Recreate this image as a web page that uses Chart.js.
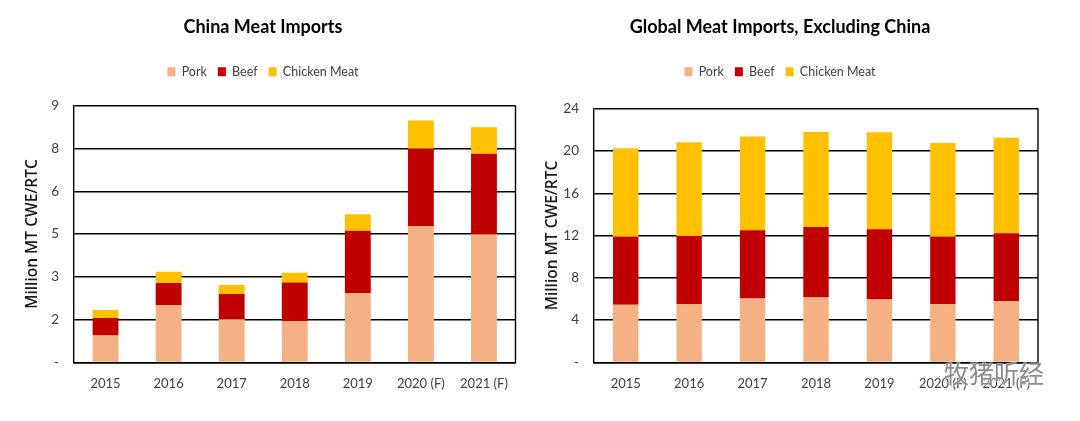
<!DOCTYPE html>
<html>
<head>
<meta charset="utf-8">
<script src="https://cdn.jsdelivr.net/npm/chart.js@4.4.1/dist/chart.umd.min.js"></script>
<style>
  html, body { margin: 0; padding: 0; background: #fff; }
  body { width: 1080px; height: 421px; position: relative; overflow: hidden; }
  canvas { position: absolute; top: 0; }
  #chinaChart { left: 6px; }
  #globalChart { left: 522px; }
  #watermark {
    position: absolute; left: 944px; top: 354px;
    font: 25px "Noto Sans CJK SC", sans-serif;
    color: rgba(110, 110, 110, 0.8);
    text-shadow: 0 0 2px #fff, 0 0 2px #fff;
  }
</style>
</head>
<body>
<canvas id="chinaChart" width="516" height="421"></canvas>
<canvas id="globalChart" width="558" height="421"></canvas>
<div id="watermark">牧猪听经</div>
<script>
// categories
const years = ['2015', '2016', '2017', '2018', '2019', '2020 (F)', '2021 (F)'];

// China meat imports (million MT CWE/RTC)
const chinaPork = [0.94, 2.01, 1.51, 1.45, 2.42, 4.78, 4.48];
const chinaBeef = [0.62, 0.77, 0.89, 1.35, 2.19, 2.71, 2.83];
const chinaChicken = [0.28, 0.40, 0.31, 0.34, 0.58, 0.99, 0.93];

// global meat imports excluding China
const globalPork = [5.44, 5.53, 6.04, 6.14, 5.95, 5.53, 5.79];
const globalBeef = [6.45, 6.42, 6.45, 6.67, 6.64, 6.36, 6.42];
const globalChicken = [8.35, 8.86, 8.86, 8.98, 9.17, 8.86, 9.04];

// y axis ticks
const chinaTicks = { max: 9, step: 1.5 };
const globalTicks = { max: 24, step: 4 };

const COLORS = { pork: '#F4B183', beef: '#C00000', chicken: '#FFC000' };

Chart.defaults.font.family = 'Lato, sans-serif';
Chart.defaults.color = '#404040';

// 凡例の下に余白を追加
const legendGap = {
    id: 'legendGap',
    beforeInit(chart, args, opts) {
        const fit = chart.legend.fit;
        chart.legend.fit = function () {
            fit.call(this);
            this.height += opts.extra || 0;
        };
    }
};

// プロットエリアの右枠線
const plotFrame = {
    id: 'plotFrame',
    beforeDatasetsDraw(chart) {
        const { ctx, chartArea: a } = chart;
        ctx.save();
        ctx.strokeStyle = '#000';
        ctx.lineWidth = 1.4;
        ctx.beginPath();
        ctx.moveTo(a.right, a.top);
        ctx.lineTo(a.right, a.bottom);
        ctx.stroke();
        ctx.restore();
    }
};

function buildChart(id, title, pork, beef, chicken, ticks, cfg) {
    const ctx = document.getElementById(id).getContext('2d');
    return new Chart(ctx, {
        type: 'bar',
        data: {
            labels: years,
            datasets: [
                { label: 'Pork', data: pork, backgroundColor: COLORS.pork },
                { label: 'Beef', data: beef, backgroundColor: COLORS.beef },
                { label: 'Chicken Meat', data: chicken, backgroundColor: COLORS.chicken }
            ]
        },
        options: {
            responsive: false,
            animation: false,
            devicePixelRatio: 1,
            borderWidth: 0,
            categoryPercentage: 1,
            barPercentage: cfg.barPct,
            layout: { padding: { left: 0, right: cfg.padRight, top: 0, bottom: 15 } },
            plugins: {
                title: {
                    display: true,
                    text: title,
                    color: '#000',
                    font: { size: 18, weight: 'bold' },
                    padding: { top: 16, bottom: 17 }
                },
                legend: {
                    labels: {
                        boxWidth: 8,
                        boxHeight: 9,
                        padding: 11,
                        color: '#404040',
                        font: { size: 12.5 }
                    }
                },
                legendGap: { extra: cfg.legendExtra },
                tooltip: { enabled: false }
            },
            scales: {
                x: {
                    stacked: true,
                    grid: { display: false, drawTicks: false },
                    border: { display: true, color: '#000', width: 1.4 },
                    ticks: { padding: 14, color: '#404040', font: { size: 13 } }
                },
                y: {
                    stacked: true,
                    min: 0,
                    max: ticks.max,
                    afterFit(scale) { scale.width = cfg.axisWidth; },
                    grid: { color: '#000', lineWidth: 1.4, drawTicks: false },
                    border: { display: true, color: '#000', width: 1.4 },
                    ticks: {
                        stepSize: ticks.step,
                        padding: 15,
                        color: '#404040',
                        font: { size: 13.5 },
                        callback: v => v === 0 ? '-' : String(Math.round(v))
                    },
                    title: {
                        display: true,
                        text: 'Million MT CWE/RTC',
                        color: '#1a1a1a',
                        font: { family: '"Open Sans", sans-serif', size: 15.5, weight: '600' },
                        padding: { top: cfg.titlePad, bottom: 0 }
                    }
                }
            }
        },
        plugins: [legendGap, plotFrame]
    });
}

buildChart('chinaChart', 'China Meat Imports', chinaPork, chinaBeef, chinaChicken, chinaTicks,
    { padRight: 2, axisWidth: 68, titlePad: 17.7, legendExtra: 17.5, barPct: 0.41 });
buildChart('globalChart', 'Global Meat Imports, Excluding China', globalPork, globalBeef, globalChicken, globalTicks,
    { padRight: 42, axisWidth: 72, titlePad: 21.7, legendExtra: 20.5, barPct: 0.40 });
</script>
</body>
</html>
